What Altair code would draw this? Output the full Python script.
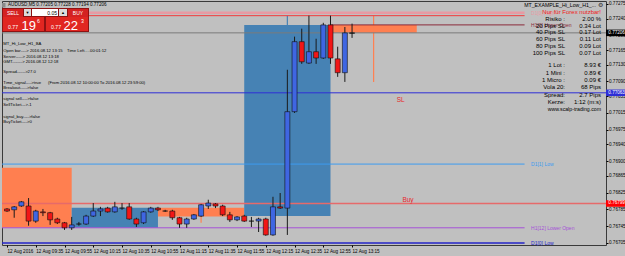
import altair as alt
import pandas as pd

FONT = "Liberation Sans"

# ---------------- data ----------------
# AUDUSD M5, bar 0 = 12 Aug 09:15, one bar per 5 minutes
bar_open = [0.76786, 0.76784, 0.76793, 0.76793, 0.76757, 0.76779, 0.76777, 0.76762, 0.76753, 0.76741,
            0.76750, 0.76750, 0.76769, 0.76781, 0.76788, 0.76779, 0.76788, 0.76791, 0.76762, 0.76753,
            0.76779, 0.76788, 0.76781, 0.76781, 0.76765, 0.76750, 0.76762, 0.76769, 0.76793, 0.76798,
            0.76793, 0.76772, 0.76760, 0.76769, 0.76757, 0.76757, 0.76762, 0.76724, 0.76791, 0.76788,
            0.77018, 0.77185, 0.77134, 0.77161, 0.77146, 0.77225, 0.77144, 0.77111, 0.77205]
bar_high = [0.76788, 0.76793, 0.76805, 0.76812, 0.76784, 0.76786, 0.76779, 0.76765, 0.76755, 0.76767,
            0.76755, 0.76772, 0.76800, 0.76791, 0.76791, 0.76803, 0.76800, 0.76800, 0.76765, 0.76781,
            0.76791, 0.76791, 0.76784, 0.76784, 0.76767, 0.76765, 0.76774, 0.76798, 0.76808, 0.76800,
            0.76796, 0.76779, 0.76769, 0.76772, 0.76767, 0.76765, 0.76765, 0.76815, 0.76824, 0.77118,
            0.77197, 0.77216, 0.77247, 0.77192, 0.77230, 0.77247, 0.77173, 0.77220, 0.77228]
bar_low = [0.76779, 0.76765, 0.76791, 0.76746, 0.76753, 0.76769, 0.76748, 0.76750, 0.76736, 0.76736,
           0.76746, 0.76748, 0.76767, 0.76769, 0.76777, 0.76777, 0.76784, 0.76760, 0.76743, 0.76750,
           0.76777, 0.76781, 0.76779, 0.76760, 0.76741, 0.76741, 0.76760, 0.76767, 0.76786, 0.76788,
           0.76769, 0.76755, 0.76757, 0.76755, 0.76743, 0.76731, 0.76722, 0.76722, 0.76786, 0.76724,
           0.77015, 0.77132, 0.77132, 0.77132, 0.77144, 0.77132, 0.77101, 0.77089, 0.77194]
bar_close = [0.76781, 0.76791, 0.76803, 0.76757, 0.76781, 0.76777, 0.76760, 0.76753, 0.76741, 0.76748,
             0.76750, 0.76769, 0.76781, 0.76786, 0.76779, 0.76791, 0.76788, 0.76762, 0.76750, 0.76779,
             0.76788, 0.76784, 0.76781, 0.76765, 0.76750, 0.76762, 0.76772, 0.76796, 0.76800, 0.76793,
             0.76772, 0.76760, 0.76767, 0.76757, 0.76757, 0.76762, 0.76724, 0.76791, 0.76788, 0.77018,
             0.77185, 0.77137, 0.77161, 0.77146, 0.77225, 0.77146, 0.77111, 0.77206, 0.77206]

time_ticks = [0, 4, 8, 12, 16, 20, 24, 28, 32, 36, 40, 44, 48]
time_labels = ["12 Aug 2016", "12 Aug 09:35", "12 Aug 09:55", "12 Aug 10:15", "12 Aug 10:35",
               "12 Aug 10:55", "12 Aug 11:15", "12 Aug 11:35", "12 Aug 11:55", "12 Aug 12:15",
               "12 Aug 12:35", "12 Aug 12:55", "12 Aug 13:15"]
price_ticks = [0.76705, 0.76745, 0.76785, 0.76825, 0.76865, 0.76900, 0.76940, 0.76975, 0.77015,
               0.77055, 0.77090, 0.77130, 0.77165, 0.77200, 0.77240, 0.77275]

# hourly boxes (bar index of start / end, prices)
box_start = [-3, 9, 21, 33, 45]
box_end = [9, 21, 33, 45, 57]
box_top = [0.76884, 0.76789, 0.76789, 0.77225, 0.77225]
box_bottom = [0.76741, 0.76741, 0.76768, 0.76769, 0.77206]
box_kind = ["down", "up", "down", "up", "down"]

# vertical range lines
vr_bar = [3, 27, 39, 51]
vr_lo = [0.76743, 0.76753, 0.77225, 0.77089]
vr_hi = [0.76812, 0.76796, 0.77247, 0.77247]
vr_kind = ["down", "down", "up", "down"]

# horizontal levels
lvl_price = [0.77254, 0.77247, 0.77225, 0.77206, 0.77063, 0.76893, 0.76799, 0.76741, 0.76705]
lvl_start = [-5, -5, 45, -5, -5, -5, -5, -5, -5]
lvl_end = [72, 72, 72, 95, 95, 72, 95, 72, 72]
lvl_label = ["D1[0] High", "", "H1[0] Upper Open", "", "", "D1[1] Low", "", "H1[12] Lower Open", "D1[0] Low"]
lvl_color = ["#E79AA3", "#F23A3A", "#8A2A3A", "#7A7A7A", "#2E2ED6", "#3D9BF0", "#E66A6A", "#A650D8", "#2424C8"]
lvl_width = [2.5, 1, 1, 1, 1, 1, 1.5, 1, 1.5]

# price boxes on the axis
pbox_price = [0.77206, 0.77063, 0.76799]
pbox_color = ["#000000", "#2E2ED6", "#FF0000"]

# chart text objects
obj_text = ["SL", "Buy"]
obj_bar = [54.2, 55.0]
obj_price = [0.77046, 0.76808]

# info panel
info_labels = ["Risiko :", "20 Pips SL", "40 Pips SL", "60 Pips SL", "80 Pips SL", "100 Pips SL",
               "1 Lot :", "1 Mini :", "1 Micro :", "Vola 20:", "Spread:", "Kerze:"]
info_values = ["2.00 %", "0.34 Lot", "0.17 Lot", "0.11 Lot", "0.09 Lot", "0.07 Lot",
               "8.93 €", "0.89 €", "0.09 €", "68 Pips", "2.7 Pips", "1:12 (m:s)"]

left_lines = ["MT_Hi_Low_H1_BA", "Open bar----> 2016.08.12 13:15", "Server-----> 2016.08.12 13:18",
              "GMT-------> 2016.08.12 12:18", "Spread------>27.0", "Time_signal---->true",
              "Breakout----->false", "signal sell---->false", "SellTicket--->-1",
              "signal_buy---->false", "BuyTicket---->0"]

# ---------------- layout ----------------
W, H = 604, 244
X_MAX = 82.63
Y_MIN, Y_MAX = 0.76700, 0.77282
xs = alt.Scale(domain=[0, X_MAX], nice=False, zero=False)
ys = alt.Scale(domain=[Y_MIN, Y_MAX], nice=False, zero=False)
C_UP, C_DOWN = "#4682B4", "#FF7F50"

candles = pd.DataFrame({"bar": list(range(len(bar_open))), "open": bar_open, "high": bar_high,
                        "low": bar_low, "close": bar_close})
candles["kind"] = ["doji" if abs(c - o) < 0.00002 else ("bull" if c > o else "bear")
                   for o, c in zip(bar_open, bar_close)]

label_expr = "[" + ",".join("'%s'" % t for t in time_labels) + "][round(datum.value / 4)]"
x_axis = alt.Axis(values=time_ticks, labelExpr=label_expr, labelAlign="left", labelFont=FONT,
                  labelFontSize=4.6, labelColor="#000", tickSize=2, tickColor="#000", domain=False,
                  grid=False, title=None, labelPadding=1, labelOverlap=False, labelFlush=False,
                  labelBaseline="top")
y_axis = alt.Axis(orient="right", values=price_ticks, format=".5f", labelFont=FONT, labelFontSize=4.6,
                  labelColor="#000", tickSize=2, tickColor="#000", domain=False, grid=False,
                  title=None, labelPadding=0.5, labelOverlap=False)


def X(field):
    return alt.X(field, scale=xs, axis=x_axis, title=None)


def Y(field):
    return alt.Y(field, scale=ys, axis=y_axis, title=None)


boxes = pd.DataFrame({"x0": box_start, "x1": box_end, "top": box_top, "bot": box_bottom,
                      "c": [C_UP if k == "up" else C_DOWN for k in box_kind]})
box_layer = alt.Chart(boxes).mark_rect(clip=True).encode(
    x=X("x0:Q"), x2="x1:Q", y=Y("top:Q"), y2="bot:Q", color=alt.Color("c:N", scale=None))

vr = pd.DataFrame({"bar": vr_bar, "lo": vr_lo, "hi": vr_hi,
                   "c": [C_UP if k == "up" else C_DOWN for k in vr_kind]})
vr_layer = alt.Chart(vr).mark_rule(strokeWidth=1.2).encode(
    x=X("bar:Q"), y=Y("lo:Q"), y2="hi:Q", color=alt.Color("c:N", scale=None))

lv = pd.DataFrame({"price": lvl_price, "s": lvl_start, "e": lvl_end, "label": lvl_label,
                   "c": lvl_color, "w": lvl_width})
lv["lx"] = lv["e"] + 0.9
lv_layer = alt.Chart(lv).mark_rule(clip=True).encode(
    x=X("s:Q"), x2="e:Q", y=Y("price:Q"),
    color=alt.Color("c:N", scale=None), strokeWidth=alt.StrokeWidth("w:Q", scale=None))
lv_text = alt.Chart(lv).mark_text(align="left", baseline="middle", font=FONT, fontSize=5).encode(
    x=X("lx:Q"), y=Y("price:Q"), text="label:N", color=alt.Color("c:N", scale=None))

wick = alt.Chart(candles).mark_rule(color="#1A1A1A", strokeWidth=1).encode(
    x=X("bar:Q"), y=Y("low:Q"), y2="high:Q")
body = alt.Chart(candles).mark_bar(size=5, stroke="#111111", strokeWidth=0.6).encode(
    x=X("bar:Q"), y=Y("open:Q"), y2="close:Q",
    color=alt.Color("kind:N", scale=alt.Scale(domain=["bull", "bear", "doji"],
                                             range=["#3F66E2", "#F21616", "#000000"]), legend=None))

objs = pd.DataFrame({"t": obj_text, "bar": obj_bar, "price": obj_price})
obj_layer = alt.Chart(objs).mark_text(align="left", baseline="middle", font=FONT, fontSize=6.5,
                                      color="#E8262A").encode(
    x=X("bar:Q"), y=Y("price:Q"), text="t:N")

pb = pd.DataFrame({"price": pbox_price, "c": pbox_color,
                   "lab": ["%.5f" % p for p in pbox_price]})
pb["lo"] = pb["price"] - 0.000078
pb["hi"] = pb["price"] + 0.000078
pb_rect = alt.Chart(pb).mark_rect().encode(
    x=alt.value(W), x2=alt.value(W + 21), y=Y("lo:Q"), y2="hi:Q",
    color=alt.Color("c:N", scale=None))
pb_text = alt.Chart(pb).mark_text(align="left", baseline="middle", font=FONT, fontSize=4.6,
                                  color="white").encode(
    x=alt.value(W + 2.3), y=Y("price:Q"), text="lab:N")


# ---- pixel-positioned UI overlays (plot coordinates) ----
def px_text(df, **kw):
    return alt.Chart(df).mark_text(font=FONT, **kw).encode(
        x=alt.X("x:Q", scale=None), y=alt.Y("y:Q", scale=None), text="t:N")


info_y = [18 + 6.7 * i if i < 6 else 64.3 + 7.3 * (i - 6) for i in range(len(info_labels))]
info_l = px_text(pd.DataFrame({"t": info_labels, "x": [563] * len(info_labels), "y": info_y}),
                 align="right", baseline="middle", fontSize=6, color="#000")
info_v = px_text(pd.DataFrame({"t": info_values, "x": [599] * len(info_values), "y": info_y}),
                 align="right", baseline="middle", fontSize=6, color="#000")
info_extra = px_text(pd.DataFrame({"t": ["www.scalp-trading.com", "MT_EXAMPLE_Hi_Low_H1_..."],
                                   "x": [599, 594], "y": [107.5, 4]}),
                     align="right", baseline="middle", fontSize=5.2, color="#000")
gear = px_text(pd.DataFrame({"t": ["⚙"], "x": [598.5], "y": [4]}), align="center",
               baseline="middle", fontSize=5.5, color="#333")
warn = px_text(pd.DataFrame({"t": ["Nur für Forex nutzbar!"], "x": [599], "y": [11]}),
               align="right", baseline="middle", fontSize=6, color="#F01818")

left_y = [43.3, 49.7, 55.7, 61, 70.7, 82.3, 87.3, 98.3, 104, 115.7, 121]
left_txt = px_text(pd.DataFrame({"t": left_lines, "x": [1.3] * len(left_lines), "y": left_y}),
                   align="left", baseline="middle", fontSize=4.2, color="#000")
left_extra = px_text(pd.DataFrame({"t": ["Time Left.....00:01:12",
                                         "(From 2016.08.12 10:00:00   To   2016.08.12 23:59:00)"],
                                   "x": [65, 46], "y": [49.7, 82.3]}),
                     align="left", baseline="middle", fontSize=4.2, color="#000")
header = px_text(pd.DataFrame({"t": ["AUDUSD,M5  0.77205 0.77228 0.77194 0.77206"], "x": [6], "y": [4]}),
                 align="left", baseline="middle", fontSize=4.6, color="#000")

panel = pd.DataFrame({
    "x": [0, 1, 22, 30, 57, 66, 1, 44, 0],
    "x2": [87, 21, 29, 56, 65, 86, 42, 86, 3.5],
    "y": [7, 8, 8, 8, 8, 8, 16, 16, 2],
    "y2": [31, 16, 15, 15, 15, 16, 30, 30, 6.5],
    "c": ["#8E1212", "#D42121", "#DCDCDC", "#FFFFFF", "#DCDCDC", "#D42121", "#E12621", "#E12621", "#8A8A8A"]})
panel_layer = alt.Chart(panel).mark_rect().encode(
    x=alt.X("x:Q", scale=None), x2="x2:Q", y=alt.Y("y:Q", scale=None), y2="y2:Q",
    color=alt.Color("c:N", scale=None))
panel_small = px_text(pd.DataFrame({"t": ["SELL", "BUY"], "x": [11, 76], "y": [12, 12]}),
                      align="center", baseline="middle", fontSize=5, color="white")
panel_arrows = px_text(pd.DataFrame({"t": ["▼", "▲"], "x": [25.5, 61], "y": [11.7, 11.7]}),
                       align="center", baseline="middle", fontSize=4, color="#000")
panel_lot = px_text(pd.DataFrame({"t": ["0.05"], "x": [55], "y": [11.7]}),
                    align="right", baseline="middle", fontSize=5, color="#000")
panel_pre = px_text(pd.DataFrame({"t": ["0.77", "0.77"], "x": [6, 49], "y": [26, 26]}),
                    align="left", baseline="middle", fontSize=5.2, color="white")
panel_big = px_text(pd.DataFrame({"t": ["19", "22"], "x": [19.5, 61.5], "y": [28.8, 28.8]}),
                    align="left", baseline="alphabetic", fontSize=13, color="white")
panel_sup = px_text(pd.DataFrame({"t": ["6", "3"], "x": [35, 79], "y": [20, 20]}),
                    align="left", baseline="middle", fontSize=5.2, color="white")

chart = alt.layer(
    box_layer, vr_layer, lv_layer, wick, body, lv_text, obj_layer, pb_rect, pb_text,
    info_l, info_v, info_extra, gear, warn, left_txt, left_extra,
    panel_layer, header, panel_small, panel_arrows, panel_lot, panel_pre, panel_big, panel_sup
).properties(
    width=W, height=H,
    autosize=alt.AutoSizeParams(type="none"),
    padding={"left": 2, "top": 1, "right": 19, "bottom": 11},
    background="#C0C0C0",
).configure_view(stroke="#3A3A3A", strokeWidth=1, fill="#C0C0C0")

chart.save("out.html", embed_options={"renderer": "svg", "actions": False})
